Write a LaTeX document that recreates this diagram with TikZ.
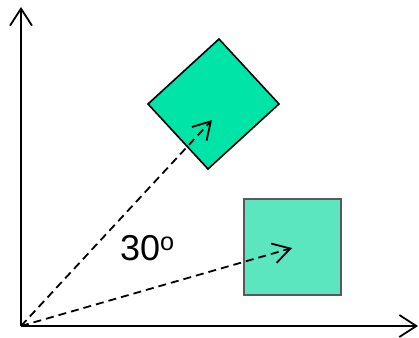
\documentclass[tikz,border=0pt]{standalone}
\usepackage{fontspec}
\setmainfont{Liberation Sans}
\usetikzlibrary{arrows.meta}
\definecolor{mintA}{HTML}{00E4A8}
\definecolor{mintB}{HTML}{5CE6BF}
\begin{document}
\begin{tikzpicture}[
  x=1pt,
  y=-1pt,
  axis/.style={line width=2pt, -{Straight Barb[length=17pt, width=22pt, line width=1.8pt]}},
  move/.style={dashed, dash pattern=on 8pt off 5pt, line width=1.8pt,
    -{Straight Barb[length=17pt, width=20pt, line width=1.8pt]}},
  font=\fontsize{36}{40}\selectfont
]
\useasboundingbox (0,0) rectangle (419,337);

\coordinate (O) at (21,326);
\coordinate (ytop) at (21,7);
\coordinate (xend) at (418,326);

% axes
\draw[axis] (O) -- (ytop);
\draw[axis] (O) -- (xend);

% rotated square
\filldraw[fill=mintA, draw=black, line width=1.6pt, line join=miter]
  (219,39) -- (279,104) -- (208,169) -- (148,104) -- cycle;

% original square
\filldraw[fill=mintB, draw=black!65, line width=1.4pt]
  (244,199) rectangle (341,295);

% direction arrows
\coordinate (tipA) at (212,120);
\coordinate (tipB) at (292,248);
\draw[move] (O) -- (tipA);
\draw[move] (O) -- (tipB);

\node[anchor=base west, inner sep=0pt] (angle) at (120,260) {30\textsuperscript{o}};
\end{tikzpicture}
\end{document}
